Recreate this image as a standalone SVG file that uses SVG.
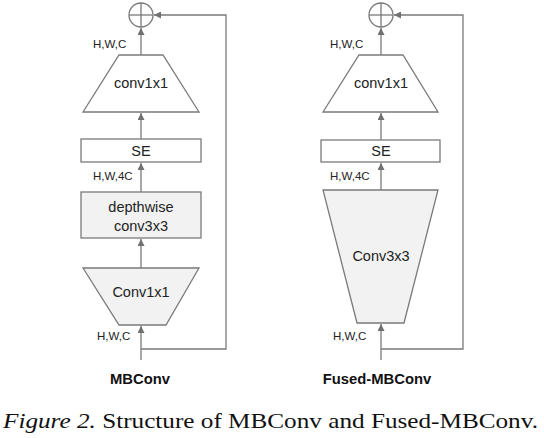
<svg xmlns="http://www.w3.org/2000/svg" width="544" height="438" viewBox="0 0 544 438">
<defs>
<marker id="ah" viewBox="0 0 10 10" refX="10" refY="5" markerWidth="7" markerHeight="7" markerUnits="userSpaceOnUse" orient="auto">
<path d="M0,0 L10,5 L0,10 z" fill="#707070"/>
</marker>
<style>
.shape{stroke:#7a7a7a;stroke-width:1.3;}
.w{fill:#ffffff;}
.g{fill:#f2f2f2;}
.line{fill:none;stroke:#7a7a7a;stroke-width:1.3;}
.lbl{font-family:"Liberation Sans",Arial,sans-serif;font-size:14.5px;fill:#222;text-anchor:middle;}
.dim{font-family:"Liberation Sans",Arial,sans-serif;font-size:11.5px;fill:#222;}
.title{font-family:"Liberation Sans",Arial,sans-serif;font-size:14.8px;font-weight:bold;fill:#111;text-anchor:middle;}
.cap{font-family:"Liberation Serif","Times New Roman",serif;font-size:22px;fill:#111;}
</style>
</defs>
<rect width="544" height="438" fill="#ffffff"/>

<g id="connectors">
<!-- left -->
<line class="line" x1="141" y1="360" x2="141" y2="326" marker-end="url(#ah)"/>
<line class="line" x1="141" y1="268" x2="141" y2="239" marker-end="url(#ah)"/>
<line class="line" x1="141" y1="192" x2="141" y2="163" marker-end="url(#ah)"/>
<line class="line" x1="141" y1="139" x2="141" y2="113" marker-end="url(#ah)"/>
<line class="line" x1="141" y1="55" x2="141" y2="28" marker-end="url(#ah)"/>
<polyline class="line" points="141,349 226,349 226,15 154,15" marker-end="url(#ah)"/>
<!-- right -->
<line class="line" x1="381" y1="360" x2="381" y2="324" marker-end="url(#ah)"/>
<line class="line" x1="381" y1="190" x2="381" y2="163" marker-end="url(#ah)"/>
<line class="line" x1="381" y1="140" x2="381" y2="113" marker-end="url(#ah)"/>
<line class="line" x1="381" y1="55" x2="381" y2="28" marker-end="url(#ah)"/>
<polyline class="line" points="381,349 463,349 463,15 394,15" marker-end="url(#ah)"/>
</g>

<g id="add-left">
<circle class="shape w" cx="141" cy="15" r="12"/>
<line class="line" x1="129" y1="15" x2="153" y2="15"/>
<line class="line" x1="141" y1="3" x2="141" y2="27"/>
</g>
<g id="conv1x1-top-left">
<polygon class="shape w" points="119,55 163,55 199,112 83,112"/>
<text class="lbl" x="141" y="88">conv1x1</text>
</g>
<g id="se-left">
<rect class="shape w" x="81" y="139" width="120" height="23"/>
<text class="lbl" x="141" y="156">SE</text>
</g>
<g id="depthwise-left">
<rect class="shape g" x="81" y="192" width="120" height="46"/>
<text class="lbl" x="141" y="212">depthwise</text>
<text class="lbl" x="141" y="231">conv3x3</text>
</g>
<g id="conv1x1-bottom-left">
<polygon class="shape g" points="83,268 199,268 166,325 119,325"/>
<text class="lbl" x="141" y="297">Conv1x1</text>
</g>
<g id="labels-left">
<text class="dim" x="93" y="48">H,W,C</text>
<text class="dim" x="93" y="180">H,W,4C</text>
<text class="dim" x="97" y="340">H,W,C</text>
<text class="title" x="140" y="384">MBConv</text>
</g>

<g id="add-right">
<circle class="shape w" cx="381" cy="15" r="12"/>
<line class="line" x1="369" y1="15" x2="393" y2="15"/>
<line class="line" x1="381" y1="3" x2="381" y2="27"/>
</g>
<g id="conv1x1-right">
<polygon class="shape w" points="359,55 403,55 438,112 323,112"/>
<text class="lbl" x="381" y="88">conv1x1</text>
</g>
<g id="se-right">
<rect class="shape w" x="321" y="140" width="119" height="22"/>
<text class="lbl" x="381" y="156">SE</text>
</g>
<g id="conv3x3-right">
<polygon class="shape g" points="323,190 438,190 404,323 357,323"/>
<text class="lbl" x="381" y="261">Conv3x3</text>
</g>
<g id="labels-right">
<text class="dim" x="330" y="48">H,W,C</text>
<text class="dim" x="330" y="180">H,W,4C</text>
<text class="dim" x="333" y="340">H,W,C</text>
<text class="title" x="377" y="384">Fused-MBConv</text>
</g>

<text class="cap" x="3" y="428" textLength="535" lengthAdjust="spacingAndGlyphs"><tspan font-style="italic">Figure 2.</tspan> Structure of MBConv and Fused-MBConv.</text>
</svg>
